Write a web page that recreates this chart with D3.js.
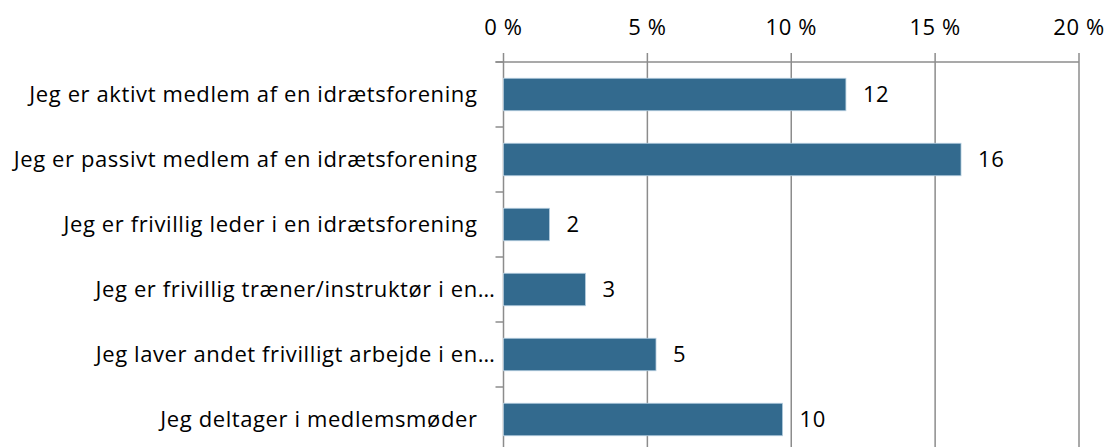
<!DOCTYPE html>
<html>
<head>
<meta charset="utf-8">
<script src="https://cdn.jsdelivr.net/npm/d3@7/dist/d3.min.js"></script>
<style>
  html, body { margin: 0; padding: 0; background: #ffffff; }
  svg { display: block; }
  text { font-family: "Open Sans", "Noto Sans", sans-serif; fill: #000; letter-spacing: 0.6px; }
</style>
</head>
<body>
<svg id="chart" width="1107" height="447"></svg>
<script>
// Share of respondents (%) per type of club involvement
const categories = [
  "Jeg er aktivt medlem af en idrætsforening",
  "Jeg er passivt medlem af en idrætsforening",
  "Jeg er frivillig leder i en idrætsforening",
  "Jeg er frivillig træner/instruktør i en…",
  "Jeg laver andet frivilligt arbejde i en…",
  "Jeg deltager i medlemsmøder"
];
const values = [11.9, 15.9, 1.6, 2.85, 5.3, 9.7];
const xTicks = [0, 5, 10, 15, 20];
const tickLabels = ["0 %", "5 %", "10 %", "15 %", "20 %"];

const svg = d3.select("#chart");
const plotLeft = 503.5, plotRight = 1079, plotTop = 62, plotBottom = 452;
const fontSize = 22;

const x = d3.scaleLinear().domain([0, 20]).range([plotLeft, plotRight]);
const y = d3.scaleBand().domain(categories).range([plotTop, plotBottom])
  .paddingInner(0.5).paddingOuter(0.25);

const gridColor = "#8c8c8c";

// vertical gridlines (including the axis line at 0)
svg.append("g").selectAll("line").data(xTicks).join("line")
  .attr("x1", d => x(d)).attr("x2", d => x(d))
  .attr("y1", plotTop - 9).attr("y2", plotBottom)
  .attr("stroke", gridColor).attr("stroke-width", 1.5);

// top axis line
svg.append("line")
  .attr("x1", plotLeft - 8).attr("x2", plotRight)
  .attr("y1", plotTop).attr("y2", plotTop)
  .attr("stroke", gridColor).attr("stroke-width", 1.5);

// category boundary ticks on the left axis
const step = y.step();
const boundaries = d3.range(categories.length + 1).map(i => plotTop + i * step);
svg.append("g").selectAll("line").data(boundaries).join("line")
  .attr("x1", plotLeft - 8).attr("x2", plotLeft)
  .attr("y1", d => d).attr("y2", d => d)
  .attr("stroke", gridColor).attr("stroke-width", 1.5);

// top tick labels
svg.append("g").selectAll("text").data(xTicks).join("text")
  .attr("x", d => x(d)).attr("y", 35)
  .attr("text-anchor", "middle")
  .attr("font-size", fontSize)
  .text((d, i) => tickLabels[i]);

// bars
svg.append("g").selectAll("rect").data(values).join("rect")
  .attr("x", x(0))
  .attr("y", (d, i) => y(categories[i]))
  .attr("width", d => x(d) - x(0))
  .attr("height", y.bandwidth())
  .attr("fill", "#336a8e")
  .attr("stroke", "#b7cfe0")
  .attr("stroke-width", 0.8);

// value labels
svg.append("g").selectAll("text").data(values).join("text")
  .attr("x", d => x(d) + 17)
  .attr("y", (d, i) => y(categories[i]) + y.bandwidth() / 2)
  .attr("dy", "0.36em")
  .attr("font-size", fontSize)
  .text(d => d3.format(".0f")(d));

// category labels
svg.append("g").selectAll("text").data(categories).join("text")
  .attr("x", d => d.endsWith("…") ? plotLeft - 8 : plotLeft - 26)
  .attr("y", d => y(d) + y.bandwidth() / 2)
  .attr("dy", "0.36em")
  .attr("text-anchor", "end")
  .attr("font-size", fontSize)
  .text(d => d);
</script>
</body>
</html>
